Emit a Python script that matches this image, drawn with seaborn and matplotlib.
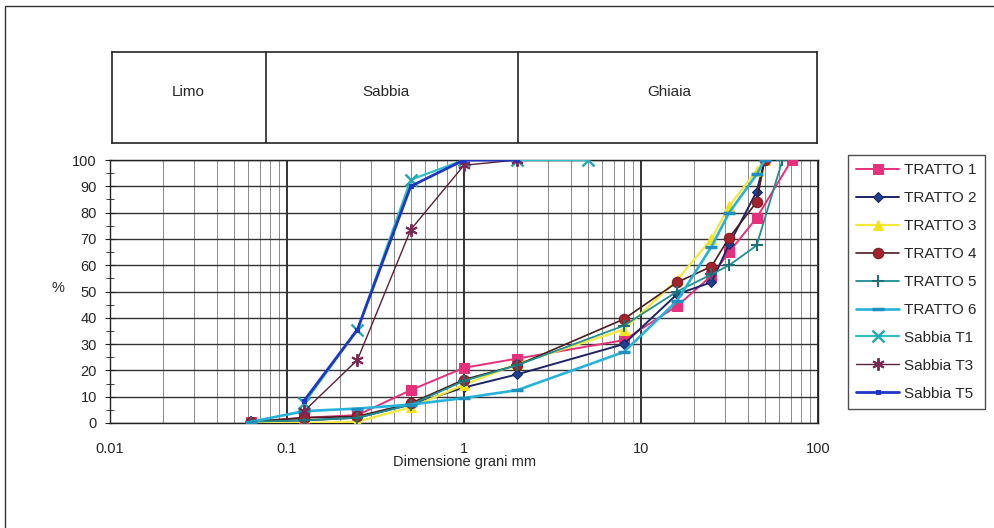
import numpy as np
import pandas as pd
import matplotlib
matplotlib.use("Agg")
import matplotlib.pyplot as plt
import seaborn as sns
from matplotlib.patches import Rectangle
from matplotlib.ticker import FixedLocator, LogLocator, NullFormatter

# ---------------- data ----------------
sizes_tratto = [0.063, 0.125, 0.25, 0.5, 1, 2, 8, 16, 25, 31.5, 45, 50]
tratto1_x = [0.063, 0.125, 0.25, 0.5, 1, 2, 8, 16, 25, 31.5, 45, 71]
tratto1 = [0.5, 2, 3, 12.5, 21, 24.5, 31.5, 44.5, 56, 65, 78, 100]
tratto2_x = sizes_tratto
tratto2 = [0.5, 1, 2, 7, 13.5, 18.5, 30, 49, 53.5, 68, 88, 100]
tratto3_x = sizes_tratto
tratto3 = [0, 0, 0.5, 6, 14.5, 22.5, 35.5, 54.5, 70, 82.5, 96, 100]
tratto4_x = sizes_tratto
tratto4 = [0.5, 2, 2.5, 7.5, 16.5, 22, 39.5, 53.5, 59.5, 70.5, 84, 100]
tratto5_x = [0.063, 0.125, 0.25, 0.5, 1, 2, 8, 16, 25, 31.5, 45, 63]
tratto5 = [0.5, 1, 2, 7, 16, 22, 37, 50, 56.5, 60, 67.5, 100]
tratto6_x = sizes_tratto
tratto6 = [0.5, 4.5, 5.5, 7, 9.5, 12.5, 27, 46.5, 67, 80, 94.5, 100]
sabbia1_x = [0.125, 0.25, 0.5, 1, 2, 5]
sabbia1 = [7.5, 35.5, 92.5, 100, 100, 100]
sabbia3_x = [0.125, 0.25, 0.5, 1, 2]
sabbia3 = [4.5, 24, 73.5, 98, 100]
sabbia5_x = [0.125, 0.25, 0.5, 1, 2]
sabbia5 = [8.5, 35.5, 90, 100, 100]

series_names = ["TRATTO 1", "TRATTO 2", "TRATTO 3", "TRATTO 4", "TRATTO 5",
                "TRATTO 6", "Sabbia T1", "Sabbia T3", "Sabbia T5"]
series_x = [tratto1_x, tratto2_x, tratto3_x, tratto4_x, tratto5_x, tratto6_x,
            sabbia1_x, sabbia3_x, sabbia5_x]
series_y = [tratto1, tratto2, tratto3, tratto4, tratto5, tratto6,
            sabbia1, sabbia3, sabbia5]

zone_labels = ["Limo", "Sabbia", "Ghiaia"]
zone_bounds = [0.075, 2]
xtick_vals = [0.01, 0.1, 1, 10, 100]
xtick_labels = ["0.01", "0.1", "1", "10", "100"]
ytick_vals = list(range(0, 101, 10))

rows = []
for name, xs, ys in zip(series_names, series_x, series_y):
    for xv, yv in zip(xs, ys):
        rows.append({"serie": name, "d": xv, "p": yv})
df = pd.DataFrame(rows)

# ---------------- styles ----------------
styles = {
    "TRATTO 1": dict(color="#e6307c", marker="s", ms=6.5, mfc="#e6307c", mec="#e6307c", lw=1.4),
    "TRATTO 2": dict(color="#1c2466", marker="D", ms=5.5, mfc="#1f3f8f", mec="#1c2466", lw=1.4),
    "TRATTO 3": dict(color="#f4e83a", marker="^", ms=7, mfc="#f4e21a", mec="#f4e21a", lw=1.6),
    "TRATTO 4": dict(color="#4a1c1c", marker="o", ms=7.5, mfc="#a3222c", mec="#7a1a22", lw=1.2),
    "TRATTO 5": dict(color="#1f8f94", marker="+", ms=8, mfc="#1f8f94", mec="#1f6f74", mew=1.5, lw=1.3),
    "TRATTO 6": dict(color="#27b2db", marker="_", ms=8, mfc="#27b2db", mec="#1f8fc0", mew=2.5, lw=1.9),
    "Sabbia T1": dict(color="#2fbfc4", marker="x", ms=8, mfc="#2fbfc4", mec="#2aa8b0", mew=1.8, lw=1.6),
    "Sabbia T3": dict(color="#5a1f3a", marker=(6, 2, 0), ms=9, mfc="#7b2a55", mec="#7b2a55", mew=1.4, lw=1.0),
    "Sabbia T5": dict(color="#1f35c8", marker="s", ms=3, mfc="#1f35c8", mec="#1f35c8", lw=2.0),
}

sns.set_style("white")
plt.rcParams["font.family"] = ["Liberation Sans", "DejaVu Sans"]

W, H = 995, 528
fig = plt.figure(figsize=(W / 100, H / 100), dpi=100)

def fx(px):
    return px / W

def fy(py):
    return 1 - py / H

ax = fig.add_axes([fx(110), fy(423), fx(818) - fx(110), fy(160) - fy(423)])

for name in series_names:
    st = dict(styles[name])
    color = st.pop("color")
    lw = st.pop("lw")
    sns.lineplot(data=df[df["serie"] == name], x="d", y="p", ax=ax, color=color,
                 linewidth=lw, label=name, estimator=None, sort=False, zorder=3, **st)

ax.set_xscale("log")
ax.set_xlim(0.01, 100)
ax.set_ylim(0, 100)

ax.xaxis.set_major_locator(FixedLocator(xtick_vals))
ax.set_xticklabels(xtick_labels)
ax.xaxis.set_minor_locator(LogLocator(base=10, subs=np.arange(2, 10)))
ax.xaxis.set_minor_formatter(NullFormatter())
ax.yaxis.set_major_locator(FixedLocator(ytick_vals))
ax.yaxis.set_minor_locator(FixedLocator(list(range(5, 100, 10))))

ax.grid(which="major", axis="x", color="#222222", linewidth=1.3)
ax.grid(which="minor", axis="x", color="#8a8a8a", linewidth=0.7)
ax.grid(which="major", axis="y", color="#333333", linewidth=1.0)
ax.set_axisbelow(True)

for s in ax.spines.values():
    s.set_color("#222222")
    s.set_linewidth(1.0)

ax.tick_params(axis="x", which="major", direction="inout", length=7, pad=10,
               labelsize=10.5, color="#222222")
ax.tick_params(axis="x", which="minor", direction="in", length=3, color="#555555")
ax.tick_params(axis="y", which="major", direction="inout", length=7, pad=6,
               labelsize=10.5, color="#222222", left=True)
ax.tick_params(axis="y", which="minor", direction="inout", length=6, color="#222222", left=True)

ax.set_xlabel("Dimensione grani mm", fontsize=10.5)
ax.xaxis.set_label_coords((465 - 110) / (818 - 110), -(455 - 423) / (423 - 160))
ax.set_ylabel("%", fontsize=10.5, rotation=0)
ax.yaxis.set_label_coords(-(110 - 58) / (818 - 110), (423 - 295) / (423 - 160))

# legend
handles, labels = ax.get_legend_handles_labels()
ax.legend_.remove()
leg = fig.legend(handles, labels, loc="upper left",
                 bbox_to_anchor=(fx(848), fy(155)), frameon=True, fancybox=False,
                 edgecolor="#222222", fontsize=11, handlelength=2.8,
                 labelspacing=0.91, borderpad=0.55, handletextpad=0.3,
                 borderaxespad=0.0, numpoints=1)
leg.get_frame().set_linewidth(1.0)

# zone band on top
axb = fig.add_axes([fx(112), fy(143), fx(817) - fx(112), fy(52) - fy(143)])
axb.set_xscale("log")
axb.set_xlim(0.01, 100)
axb.set_ylim(0, 1)
axb.set_xticks([])
axb.set_yticks([])
axb.minorticks_off()
axb.xaxis.set_minor_locator(FixedLocator([]))
for s in axb.spines.values():
    s.set_color("#222222")
    s.set_linewidth(1.2)
for b in zone_bounds:
    axb.axvline(b, color="#222222", linewidth=1.2)
zone_pos = [0.027, 0.36, 14.5]
for lab, xp in zip(zone_labels, zone_pos):
    axb.text(xp, 0.56, lab, ha="center", va="center", fontsize=11)

# outer frame
fig.add_artist(Rectangle((fx(5), -0.1), 1.2, fy(6) + 0.1, transform=fig.transFigure,
                         fill=False, edgecolor="#333333", linewidth=1.0, clip_on=False))

fig.savefig("out.png", dpi=100, facecolor="white")
